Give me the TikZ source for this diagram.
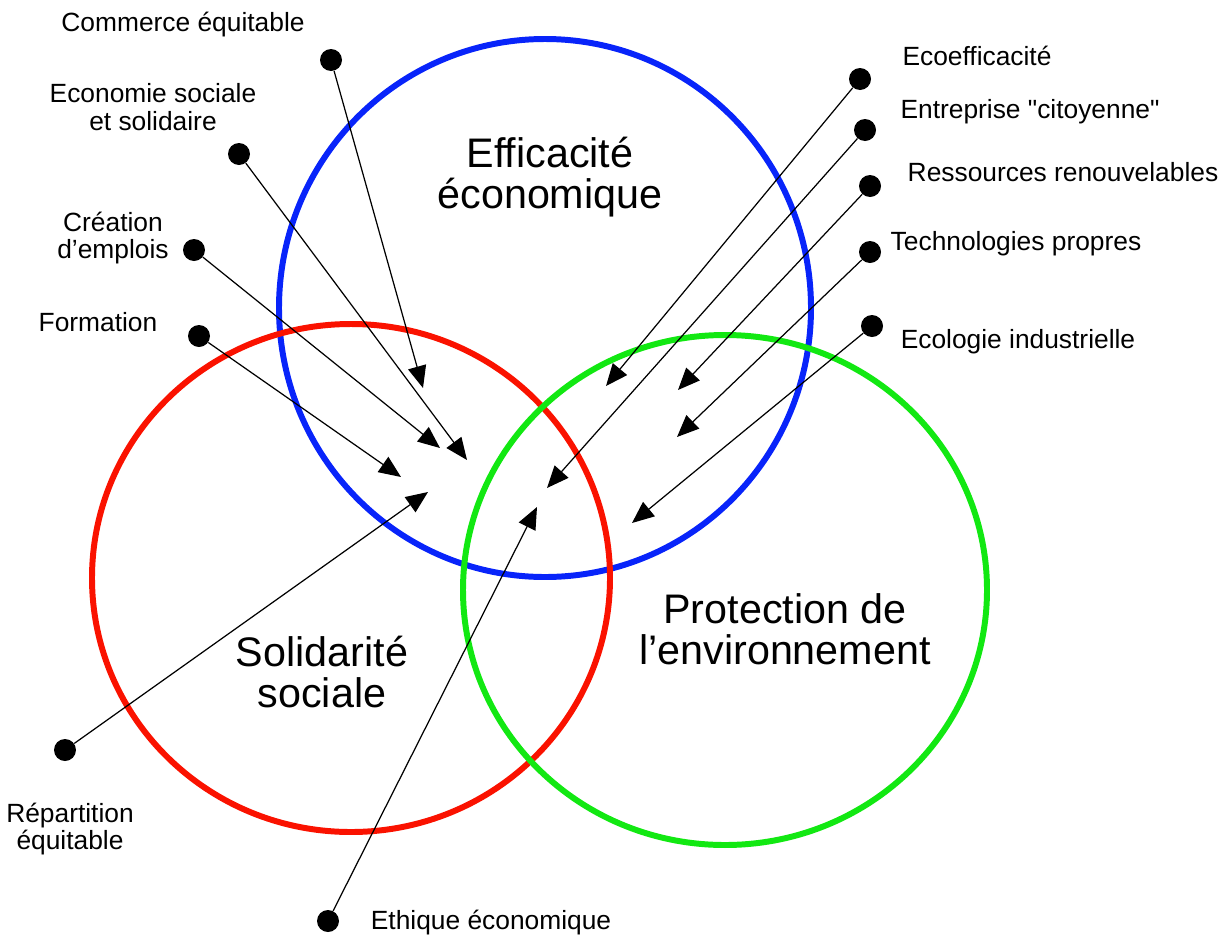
\documentclass[tikz,border=0pt]{standalone}
\usepackage{fontspec}
\setmainfont{Liberation Sans}
\usepackage{xcolor}
\usetikzlibrary{arrows.meta}
\definecolor{bleuE}{RGB}{8,36,250}
\definecolor{rougeS}{RGB}{250,18,0}
\definecolor{vertP}{RGB}{18,232,18}

\begin{document}
\begin{tikzpicture}[x=0.02cm,y=-0.02cm,
    cercle/.style={line width=3.4pt},
    point/.style={circle,fill=black,inner sep=0pt,minimum size=0.44cm},
    lien/.style={line width=0.7pt,-{Triangle[length=12.5pt,width=10.5pt]}},
    petit/.style={font=\fontsize{15}{15.5}\selectfont,align=center,inner sep=0pt},
    grand/.style={font=\fontsize{23.5}{23.5}\selectfont,align=center,inner sep=0pt}]
    \useasboundingbox (0,0) rectangle (1224,937);

    % les trois cercles
    \draw[cercle,bleuE] (545,308) ellipse (266 and 269);
    \draw[cercle,rougeS] (351,578) ellipse (259 and 254);
    \draw[cercle,vertP] (725,590) ellipse (262 and 255);

    \node[grand] (gEF) at (550,177) {Efficacité\\économique};
    \node[grand] (gSS) at (322,672) {Solidarité\\sociale};
    \node[grand] (gPE) at (785,629) {Protection de\\l'environnement};

    % textes
    \node[petit] (tCE) at (183,25) {Commerce équitable};
    \node[petit] (tES) at (153,107) {Economie sociale\\et solidaire};
    \node[petit] (tCR) at (113,238) {Création\\d'emplois};
    \node[petit] (tFO) at (98,322) {Formation};
    \node[petit] (tRE) at (70,829) {Répartition\\équitable};
    \node[petit] (tEE) at (491,923) {Ethique économique};
    \node[petit] (tEF) at (977,56) {Ecoefficacité};
    \node[petit] (tEC) at (1030,112) {Entreprise \textquotedbl citoyenne\textquotedbl};
    \node[petit] (tRR) at (1063,172) {Ressources renouvelables};
    \node[petit] (tTP) at (1016,244) {Technologies propres};
    \node[petit] (tEI) at (1018,342) {Ecologie industrielle};

    % points
    \node[point] (pCE) at (331,60) {};
    \node[point] (pES) at (239,154) {};
    \node[point] (pCR) at (194,250) {};
    \node[point] (pFO) at (199,336) {};
    \node[point] (pRE) at (65,750) {};
    \node[point] (pEE) at (328,921) {};
    \node[point] (pEF) at (860,79) {};
    \node[point] (pEC) at (865,130) {};
    \node[point] (pRR) at (870,186) {};
    \node[point] (pTP) at (870,252) {};
    \node[point] (pEI) at (872,326) {};

    % bouts des fleches
    \coordinate (fCE) at (423,388);
    \coordinate (fES) at (467,460);
    \coordinate (fCR) at (440,448);
    \coordinate (fFO) at (401,477);
    \coordinate (fRE) at (428,492);
    \coordinate (fEE) at (537,507);
    \coordinate (fEF) at (606,386);
    \coordinate (fEC) at (547,488);
    \coordinate (fRR) at (678,390);
    \coordinate (fTP) at (677,437);
    \coordinate (fEI) at (632,523);

    \draw[lien] (pCE) -- (fCE);
    \draw[lien] (pES) -- (fES);
    \draw[lien] (pCR) -- (fCR);
    \draw[lien] (pFO) -- (fFO);
    \draw[lien] (pRE) -- (fRE);
    \draw[lien] (pEE) -- (fEE);
    \draw[lien] (pEF) -- (fEF);
    \draw[lien] (pEC) -- (fEC);
    \draw[lien] (pRR) -- (fRR);
    \draw[lien] (pTP) -- (fTP);
    \draw[lien] (pEI) -- (fEI);
\end{tikzpicture}
\end{document}
